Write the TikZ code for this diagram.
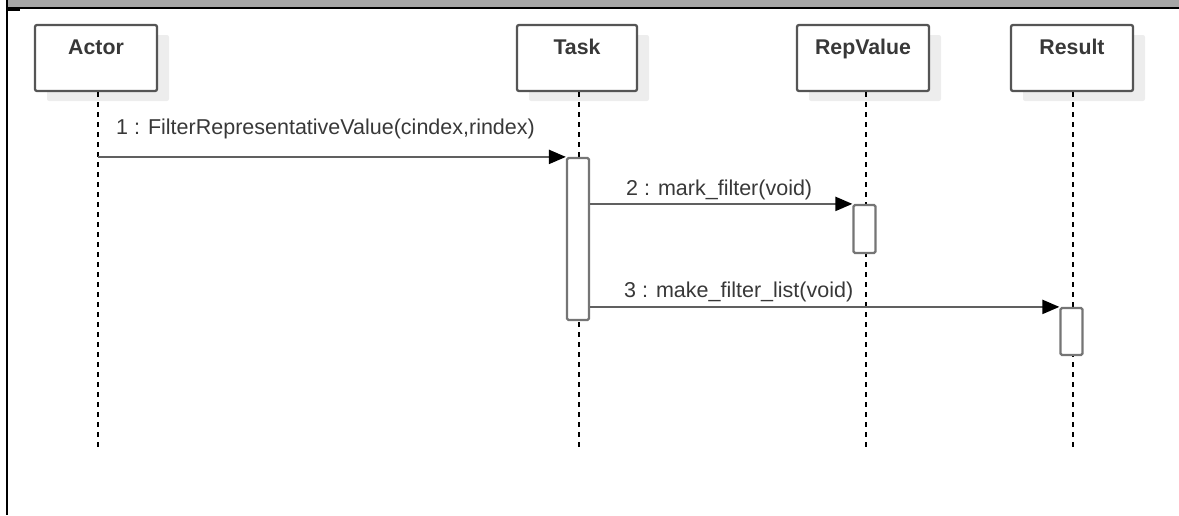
\documentclass[tikz,border=0pt]{standalone}
\usepackage{fontspec}
\setmainfont{Liberation Sans}
\usetikzlibrary{arrows.meta,shadows}
\definecolor{barGray}{HTML}{A6A6A6}
\definecolor{boxEdge}{HTML}{555555}
\definecolor{actEdge}{HTML}{757575}
\definecolor{msgLine}{HTML}{606060}
\definecolor{txt}{HTML}{383838}
\definecolor{shade}{HTML}{EDEDED}
\tikzset{
  participant/.style={draw=boxEdge, line width=2.3pt, fill=white, rounded corners=2pt,
    minimum height=66pt, inner sep=0pt, text height=16pt, text depth=24pt,
    font=\fontsize{21.3}{25}\selectfont\bfseries, text=txt,
    general shadow={fill=shade, shadow xshift=12pt, shadow yshift=-10pt}},
  lifeline/.style={black, line width=1.5pt, dash pattern=on 5pt off 5pt},
  activation/.style={draw=actEdge, line width=2.2pt, fill=white, rounded corners=1.5pt,
    minimum width=22pt, inner sep=0pt},
  msg/.style={draw=msgLine, line width=2.2pt,
    -{Triangle[length=17pt,width=14pt,color=black,fill=black]}},
  msglabel/.style={anchor=base west, inner sep=0pt, text=txt,
    font=\fontsize{21.5}{25}\selectfont}
}
\begin{document}
\begin{tikzpicture}[x=1pt,y=-1pt]
\useasboundingbox (0,0) rectangle (1179,515);
% frame header and left edge
\fill[barGray] (7,0) rectangle (1179,8);
\draw[black, line width=1.5pt] (7,8) -- (1179,8);
\draw[black, line width=1.2pt] (7,10) -- (20,10);
\draw[black, line width=2.5pt] (7,0) -- (7,515);

% participants
\node[participant, minimum width=122pt] (actor) at (96,58) {Actor};
\node[participant, minimum width=120pt] (task) at (577,58) {Task};
\node[participant, minimum width=132pt] (rep) at (863,58) {RepValue};
\node[participant, minimum width=122pt] (res) at (1072,58) {Result};

% lifeline ends
\coordinate (actorEnd) at (98,448);
\coordinate (taskEnd) at (579,448);
\coordinate (repEnd) at (866,448);
\coordinate (resEnd) at (1073,448);

\draw[lifeline] (actor.south -| actorEnd) -- (actorEnd);
\draw[lifeline] (task.south -| taskEnd) -- (taskEnd);
\draw[lifeline] (rep.south -| repEnd) -- (repEnd);
\draw[lifeline] (res.south -| resEnd) -- (resEnd);

% activations
\node[activation, minimum height=162pt] (taskAct) at (578,239) {};
\node[activation, minimum height=48pt] (repAct) at (864.5,229) {};
\node[activation, minimum height=47pt] (resAct) at (1071.5,331.5) {};

% messages
\draw[msg] (actorEnd |- taskAct.north) -- (taskAct.north west);
\draw[msg] (taskAct.east |- repAct.north) -- (repAct.north west);
\draw[msg] (taskAct.east |- resAct.north) -- (resAct.north west);

% message labels
\node[msglabel] (l1) at (116,134) {1 : FilterRepresentativeValue(cindex,rindex)};
\node[msglabel] (l2) at (626,195) {2 : mark\_filter(void)};
\node[msglabel] (l3) at (624,297) {3 : make\_filter\_list(void)};
\end{tikzpicture}
\end{document}
